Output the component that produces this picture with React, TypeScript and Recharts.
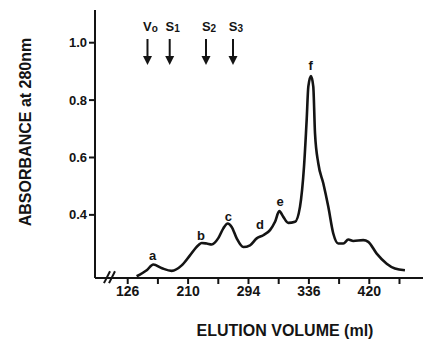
import { ComposedChart, Line, Scatter, XAxis, YAxis, ReferenceLine, Label } from 'recharts';

// elution profile (ml on the drawn axis scale, absorbance)
const volume = [
  138.5, 152.4, 161.6, 173.7, 187.2, 201.1, 212.6, 224.2, 228.9, 235.9, 242.8, 252.0,
  259.0, 265.1, 270.6, 277.6, 286.8, 296.1, 305.4, 314.6, 323.9, 330.9, 336.8, 342.4,
  349.3, 358.7, 365.6, 371.2, 374.9, 377.2, 380.9, 384.1, 386.5, 391.1, 398.0, 405.0,
  411.9, 418.9, 425.8, 432.8, 439.7, 453.6, 460.6, 472.3, 486.2, 497.7, 511.6,
];
const absorbance = [
  0.186, 0.207, 0.227, 0.214, 0.205, 0.224, 0.259, 0.294, 0.302, 0.300, 0.297, 0.319,
  0.353, 0.370, 0.358, 0.318, 0.288, 0.294, 0.318, 0.329, 0.347, 0.376, 0.413, 0.393,
  0.372, 0.376, 0.428, 0.568, 0.731, 0.847, 0.884, 0.847, 0.684, 0.579, 0.510, 0.428,
  0.335, 0.300, 0.300, 0.314, 0.309, 0.312, 0.306, 0.265, 0.230, 0.213, 0.207,
];

const xTicks = [126, 168, 210, 252, 294, 336, 378, 420, 462, 504];
const xTickLabels = ['126', '', '210', '', '294', '', '336', '', '420', ''];
const yTicks = [0.4, 0.6, 0.8, 1.0];

const markerNames = ['V', 'S', 'S', 'S'];
const markerSubs = ['o', '1', '2', '3'];
const markerVolume = [153.5, 184.4, 234.9, 272.4];
const markerLevel = 1.013;

const peakNames = ['a', 'b', 'c', 'd', 'e', 'f'];
const peakVolume = [160.8, 227.9, 265.9, 310.0, 337.8, 380.5];
const peakLevel = [0.259, 0.329, 0.395, 0.367, 0.445, 0.922];

// axis break "//"
const breakMarks = [
  [{ x: 93.0, y: 0.162 }, { x: 101.4, y: 0.2035 }],
  [{ x: 100.0, y: 0.162 }, { x: 108.3, y: 0.2035 }],
];

const curve = volume.map((ml, i) => ({ ml, a: absorbance[i] }));
const markers = markerVolume.map((ml, i) => ({ ml, a: markerLevel, name: markerNames[i], sub: markerSubs[i] }));
const peaks = peakVolume.map((ml, i) => ({ ml, a: peakLevel[i], name: peakNames[i] }));

const ink = '#141414';
const font = '"Liberation Sans", Arial, sans-serif';

function Arrow(props: any) {
  const { cx, cy, payload } = props;
  return (
    <g>
      <text x={cx + 3} y={cy - 12} textAnchor="middle" dominantBaseline="central" fontFamily={font} fontWeight="bold" fontSize={13} fill={ink}>
        {payload.name}
        <tspan fontSize={10} dy={1}>{payload.sub}</tspan>
      </text>
      <line x1={cx} y1={cy} x2={cx} y2={cy + 20} stroke={ink} strokeWidth={2} />
      <path d={`M${cx - 4.5},${cy + 17} L${cx + 4.5},${cy + 17} L${cx},${cy + 26} Z`} fill={ink} />
    </g>
  );
}

function PeakTag(props: any) {
  const { cx, cy, payload } = props;
  return (
    <text x={cx} y={cy} textAnchor="middle" dominantBaseline="central" fontFamily={font} fontWeight="bold" fontSize={13} fill={ink}>
      {payload.name}
    </text>
  );
}

export default function App() {
  return (
    <div style={{ position: 'absolute', left: 0, top: 0, width: 423, height: 342, background: '#fff' }}>
      <ComposedChart width={423} height={342} data={curve} margin={{ top: 10, right: 0, bottom: 0, left: 0 }}>
        <XAxis
          type="number"
          dataKey="ml"
          domain={[80.5, 536.7]}
          ticks={xTicks}
          tickFormatter={(v: number) => xTickLabels[xTicks.indexOf(v)] ?? ''}
          allowDataOverflow
          height={64}
          tickSize={6}
          tickMargin={2}
          axisLine={{ stroke: ink, strokeWidth: 2 }}
          tickLine={{ stroke: ink, strokeWidth: 2 }}
          tick={{ fill: ink, fontSize: 14, fontWeight: 'bold', fontFamily: font }}
        >
          <Label
            content={() => (
              <text x={285} y={330} textAnchor="middle" dominantBaseline="central" fontFamily={font} fontWeight="bold" fontSize={16} fill={ink}>
                ELUTION VOLUME (ml)
              </text>
            )}
          />
        </XAxis>
        <YAxis
          type="number"
          domain={[0.18, 1.114]}
          ticks={yTicks}
          tickFormatter={(v: number) => v.toFixed(1)}
          allowDataOverflow
          width={95}
          tickSize={6}
          tickMargin={2}
          axisLine={{ stroke: ink, strokeWidth: 2 }}
          tickLine={{ stroke: ink, strokeWidth: 2 }}
          tick={{ fill: ink, fontSize: 13, fontWeight: 'bold', fontFamily: font }}
        >
          <Label
            content={() => (
              <text x={25} y={132} transform="rotate(-90 25 132)" textAnchor="middle" dominantBaseline="central" fontFamily={font} fontWeight="bold" fontSize={16} fill={ink}>
                ABSORBANCE at 280nm
              </text>
            )}
          />
        </YAxis>
        {breakMarks.map((seg, i) => (
          <ReferenceLine key={i} segment={seg} ifOverflow="visible" stroke={ink} strokeWidth={2} />
        ))}
        <Line type="monotone" dataKey="a" stroke={ink} strokeWidth={2.6} dot={false} isAnimationActive={false} />
        <Scatter data={markers} dataKey="a" shape={Arrow} isAnimationActive={false} />
        <Scatter data={peaks} dataKey="a" shape={PeakTag} isAnimationActive={false} />
      </ComposedChart>
    </div>
  );
}
